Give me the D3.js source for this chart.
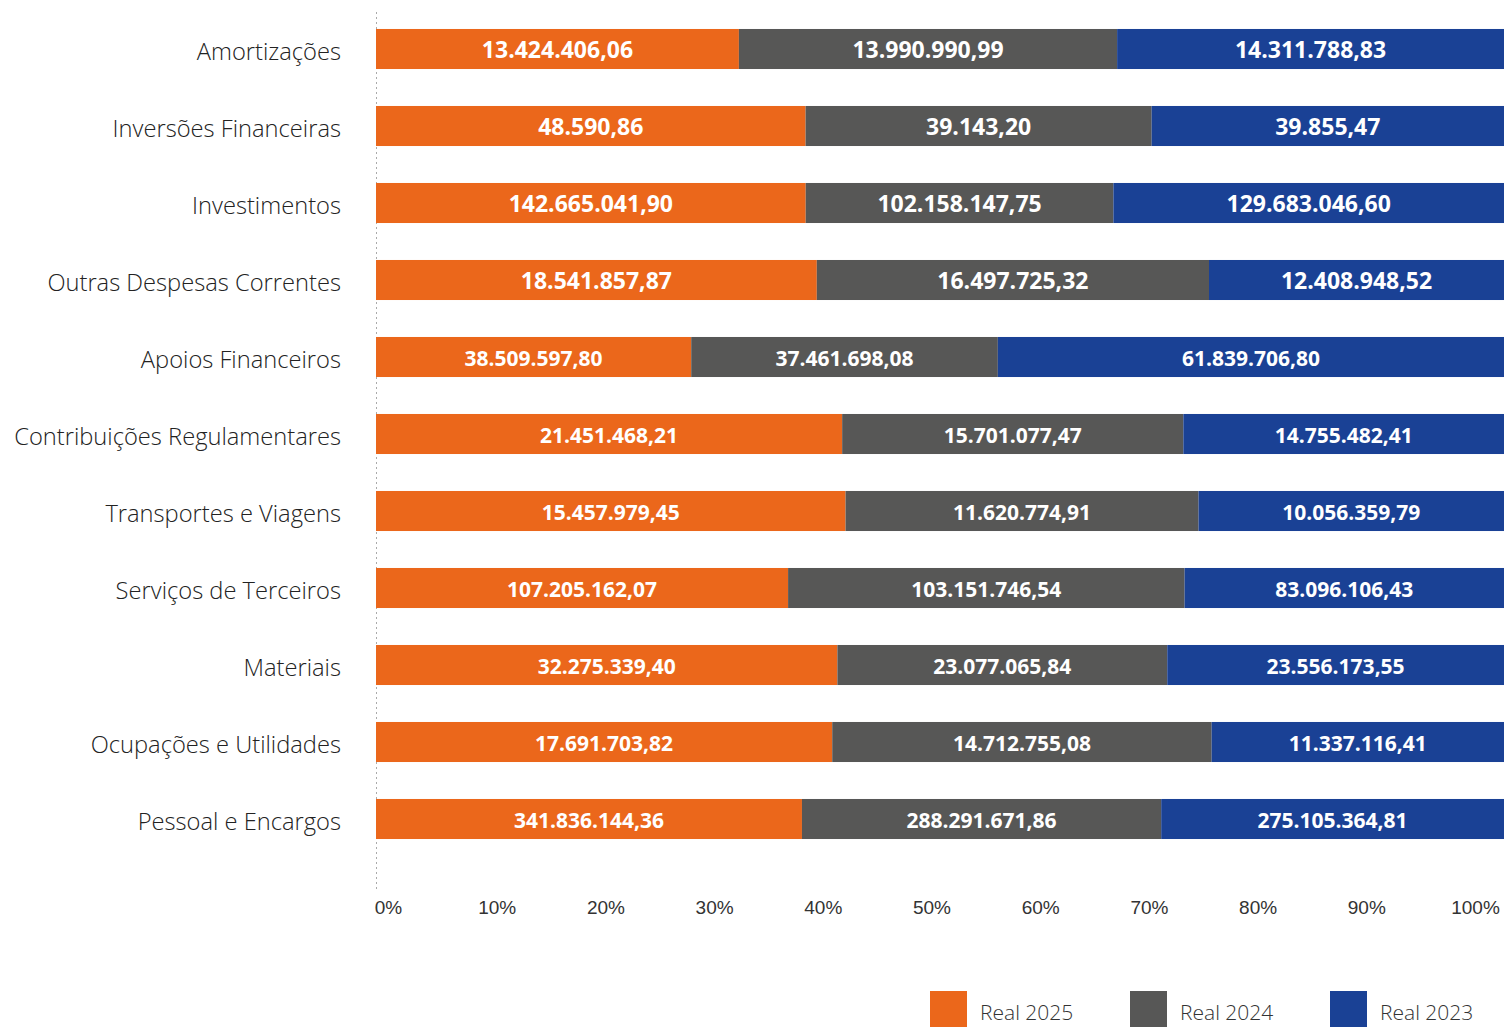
<!DOCTYPE html>
<html lang="pt">
<head>
<meta charset="utf-8">
<title>Despesas por natureza</title>
<script src="https://cdn.jsdelivr.net/npm/d3@7"></script>
<style>
  body { margin: 0; background: #fff; font-family: 'Open Sans', sans-serif; }
  svg { display: block; }
  .cat { font-size: 23.7px; font-weight: 300; fill: #222; }
  .tick-label { font-size: 19px; font-weight: 300; fill: #333; }
  .value { font-weight: 700; fill: #fff; }
  .legend-label { font-size: 21px; font-weight: 300; fill: #333; }
</style>
</head>
<body>
<svg id="chart" width="1504" height="1027"></svg>
<script>
const categories = [
  "Amortizações",
  "Inversões Financeiras",
  "Investimentos",
  "Outras Despesas Correntes",
  "Apoios Financeiros",
  "Contribuições Regulamentares",
  "Transportes e Viagens",
  "Serviços de Terceiros",
  "Materiais",
  "Ocupações e Utilidades",
  "Pessoal e Encargos"
];

const real2025 = [13424406.06, 48590.86, 142665041.90, 18541857.87, 38509597.80,
  21451468.21, 15457979.45, 107205162.07, 32275339.40, 17691703.82, 341836144.36];
const real2024 = [13990990.99, 39143.20, 102158147.75, 16497725.32, 37461698.08,
  15701077.47, 11620774.91, 103151746.54, 23077065.84, 14712755.08, 288291671.86];
const real2023 = [14311788.83, 39855.47, 129683046.60, 12408948.52, 61839706.80,
  14755482.41, 10056359.79, 83096106.43, 23556173.55, 11337116.41, 275105364.81];

const seriesNames = ["Real 2025", "Real 2024", "Real 2023"];
const seriesColors = ["#EB671B", "#575756", "#1A4195"];
const tickValues = [0, 0.1, 0.2, 0.3, 0.4, 0.5, 0.6, 0.7, 0.8, 0.9, 1];

const svg = d3.select("#chart");

const rows = categories.map((c, i) => ({
  cat: c, idx: i,
  "Real 2025": real2025[i], "Real 2024": real2024[i], "Real 2023": real2023[i]
}));

const stacked = d3.stack()
  .keys(seriesNames)
  .offset(d3.stackOffsetExpand)(rows);

const x = d3.scaleLinear().domain([0, 1]).range([376, 1504]);
// the tick labels in the original sit a little off the bar scale
const xLabels = d3.scaleLinear().domain([0, 1]).range([388, 1475]);

const y = d3.scaleBand()
  .domain(categories)
  .range([10.5, 857.5])
  .paddingInner(0.48)
  .paddingOuter(0.24);

const color = d3.scaleOrdinal().domain(seriesNames).range(seriesColors);
const fmt = d3.formatLocale({ decimal: ",", thousands: ".", grouping: [3], currency: ["", ""] }).format(",.2f");

// dotted baseline
svg.append("line")
  .attr("x1", x(0) + 0.5).attr("x2", x(0) + 0.5)
  .attr("y1", 12).attr("y2", 890)
  .attr("stroke", "#aaa")
  .attr("stroke-width", 1)
  .attr("stroke-dasharray", "2 3");

// bars
const layers = svg.append("g").selectAll("g")
  .data(stacked)
  .join("g")
  .attr("fill", d => color(d.key));

layers.selectAll("rect")
  .data(d => d)
  .join("rect")
  .attr("x", d => x(d[0]))
  .attr("width", d => x(d[1]) - x(d[0]))
  .attr("y", d => y(d.data.cat))
  .attr("height", y.bandwidth());

// value labels
stacked.forEach(layer => {
  svg.append("g").selectAll("text")
    .data(layer)
    .join("text")
    .attr("class", "value")
    .attr("x", d => (x(d[0]) + x(d[1])) / 2)
    .attr("y", d => y(d.data.cat) + y.bandwidth() / 2 + 1)
    .attr("dy", "0.36em")
    .attr("text-anchor", "middle")
    .style("font-size", d => d.data.idx < 4 ? "23px" : "21px")
    .text(d => fmt(d.data[layer.key]));
});

// category labels
svg.append("g").selectAll("text")
  .data(categories)
  .join("text")
  .attr("class", "cat")
  .attr("x", 341)
  .attr("y", d => y(d) + y.bandwidth() / 2 + 2)
  .attr("dy", "0.36em")
  .attr("text-anchor", "end")
  .text(d => d);

// x axis labels
const xAxis = d3.axisBottom(xLabels)
  .tickValues(tickValues)
  .tickFormat(d3.format(".0%"))
  .tickSize(0)
  .tickPadding(0);

const ax = svg.append("g")
  .attr("transform", "translate(0, 900)")
  .call(xAxis);
ax.select(".domain").remove();
ax.selectAll("text")
  .attr("class", "tick-label")
  .attr("fill", null)
  .attr("font-size", null)
  .attr("font-family", null);

// legend
const legend = svg.append("g").selectAll("g")
  .data(seriesNames)
  .join("g")
  .attr("transform", (d, i) => `translate(${930 + i * 200}, 991)`);

legend.append("rect")
  .attr("width", 37)
  .attr("height", 36)
  .attr("fill", d => color(d));

legend.append("text")
  .attr("class", "legend-label")
  .attr("x", 50)
  .attr("y", 21)
  .attr("dy", "0.36em")
  .text(d => d);
</script>
</body>
</html>
